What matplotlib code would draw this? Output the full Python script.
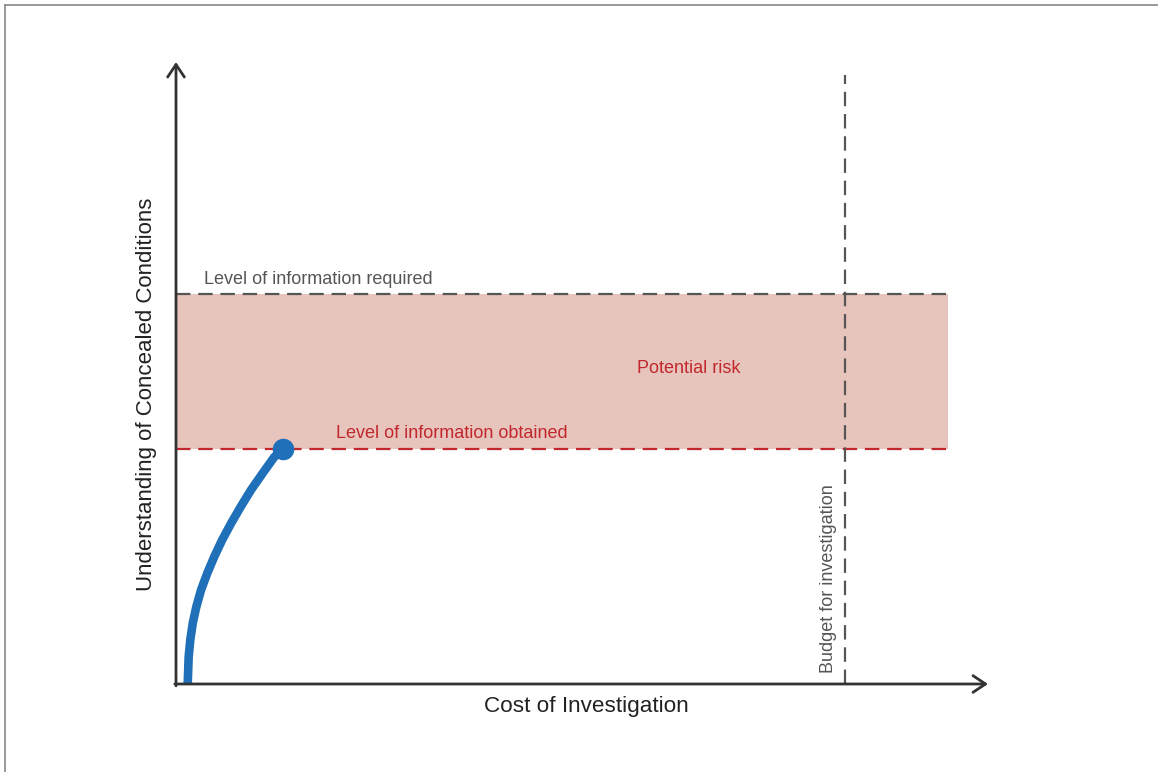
import numpy as np
import matplotlib.pyplot as plt
from matplotlib.lines import Line2D

plt.rcParams['font.family'] = ['Liberation Sans', 'DejaVu Sans']

# chart values (axis units 0..100)
level_required = 62.7
level_obtained = 37.8
budget_x = 82.4
band_end_x = 95.1
budget_top = 97.9
curve_x = [1.44, 1.56, 1.76, 2.06, 2.50, 3.08, 3.85, 4.72, 5.70, 6.77, 7.97, 9.24, 10.68, 12.11, 13.18]
curve_y = [0.0, 4.39, 7.07, 9.76, 12.4, 15.1, 17.8, 20.5, 23.2, 25.8, 28.5, 31.2, 33.9, 36.5, 37.8]

x_label = 'Cost of Investigation'
y_label = 'Understanding of Concealed Conditions'
label_required = 'Level of information required'
label_obtained = 'Level of information obtained'
label_risk = 'Potential risk'
label_budget = 'Budget for investigation'

W, H = 1158, 772
fig = plt.figure(figsize=(W / 100, H / 100), dpi=100)

# frame lines (left and top only)
fig.add_artist(Line2D([5 / W, 5 / W], [0, 1 - 5 / H], color='#888888', lw=1.2))
fig.add_artist(Line2D([5 / W, 1], [1 - 5 / H, 1 - 5 / H], color='#888888', lw=1.2))

ax = fig.add_axes([176 / W, (H - 684) / H, (988 - 176) / W, (684 - 62) / H])
ax.set_xlim(0, 100)
ax.set_ylim(0, 100)
ax.axis('off')

gray = '#555555'
red = '#c1272d'

ax.fill_between([0, band_end_x], level_obtained, level_required, color='#e8c5bc', lw=0, zorder=1)
ax.plot([0, band_end_x], [level_required, level_required], color=gray, lw=1.6, dashes=(6.5, 3.5), zorder=2)
ax.plot([0, band_end_x], [level_obtained, level_obtained], color=red, lw=1.6, dashes=(6.5, 3.5), zorder=2)
ax.plot([budget_x, budget_x], [0, budget_top], color=gray, lw=1.6, dashes=(6.5, 3.5), zorder=2)

# axes arrows
arrow = dict(arrowstyle='->,head_length=0.9,head_width=0.6', color='#333333', lw=2.0,
             shrinkA=0, shrinkB=0)
ax.annotate('', xy=(0, 100), xytext=(0, -0.3), arrowprops=arrow, annotation_clip=False, zorder=4)
ax.annotate('', xy=(100, 0), xytext=(-0.15, 0), arrowprops=arrow, annotation_clip=False, zorder=4)

ax.plot(curve_x, curve_y, color='#1f70b8', lw=6.2, solid_capstyle='butt',
        solid_joinstyle='round', zorder=3, clip_on=False)
ax.plot(curve_x[-1], curve_y[-1], 'o', color='#1f70b8', ms=14.5, zorder=3)

ax.text(3.5, 65.0, label_required, color=gray, fontsize=13, ha='left', va='center')
ax.text(19.7, 40.3, label_obtained, color=red, fontsize=13, ha='left', va='center')
ax.text(63.1, 50.8, label_risk, color=red, fontsize=13, ha='center', va='center')
ax.text(80.4, 1.8, label_budget, color=gray, fontsize=13, ha='center', va='bottom', rotation=90)

ax.text(50.5, -3.6, x_label, color='#222222', fontsize=16.2, ha='center', va='center')
ax.text(-3.6, 46.5, y_label, color='#222222', fontsize=16.0, ha='center', va='center', rotation=90)

fig.savefig('out.png', dpi=100)
